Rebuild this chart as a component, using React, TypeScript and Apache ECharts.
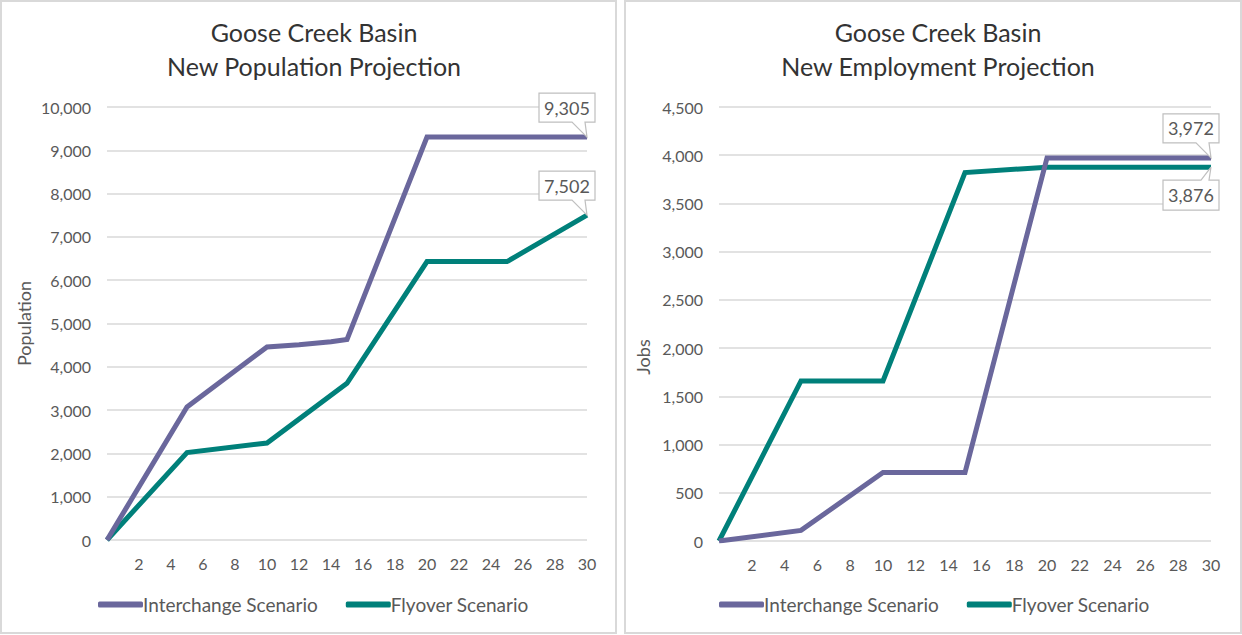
import React, { useEffect, useRef } from "react";
import * as echarts from "echarts";

const popYearsInterchange = [0, 5, 10, 12, 14, 15, 20, 25, 30];
const popInterchange = [0, 3070, 4460, 4510, 4580, 4630, 9305, 9305, 9305];
const popYearsFlyover = [0, 5, 10, 15, 20, 25, 30];
const popFlyover = [0, 2020, 2240, 3620, 6430, 6430, 7502];

const jobYears = [0, 5, 10, 15, 20, 25, 30];
const jobsInterchange = [0, 110, 710, 710, 3972, 3972, 3972];
const jobsFlyover = [0, 1660, 1660, 3820, 3876, 3876, 3876];

const seriesNames = ["Interchange Scenario", "Flyover Scenario"];
const titles = ["Goose Creek Basin\nNew Population Projection", "Goose Creek Basin\nNew Employment Projection"];
const yNames = ["Population", "Jobs"];

const PURPLE = "#6a679c";
const TEAL = "#00807a";
const FONT = "Lato";
const GRAY = "#595959";

const zip = (xs: number[], ys: number[]) => xs.map((x, i) => [x, ys[i]]);
const fmt = (v: number) => v.toLocaleString("en-US");

export default function App() {
  const ref = useRef<HTMLDivElement>(null);
  useEffect(() => {
    document.body.style.margin = "0";
    const chart = echarts.init(ref.current!, undefined, { renderer: "svg" });
    const xAxisBase = (gridIndex: number) => ({
      type: "value" as const,
      gridIndex,
      min: 0,
      max: 30,
      interval: 2,
      axisLine: { show: false },
      axisTick: { show: false },
      splitLine: { show: false },
      axisLabel: {
        margin: 15,
        color: GRAY,
        fontFamily: FONT,
        fontSize: 16,
        formatter: (v: number) => (v === 0 ? "" : String(v)),
      },
    });
    const yAxisBase = (gridIndex: number, max: number, interval: number, name: string, padding: number[]) => ({
      type: "value" as const,
      gridIndex,
      min: 0,
      max,
      interval,
      name,
      nameLocation: "middle" as const,
      nameGap: gridIndex === 0 ? 74 : 67,
      nameTextStyle: { color: GRAY, fontFamily: FONT, fontSize: 18, padding },
      axisLine: { show: false },
      axisTick: { show: false },
      splitLine: { lineStyle: { color: "#d9d9d9", width: 1.5 } },
      axisLabel: {
        margin: 16,
        color: GRAY,
        fontFamily: FONT,
        fontSize: 16,
        formatter: (v: number) => fmt(v),
      },
    });
    const line = (name: string, color: string, data: number[][], idx: number) => ({
      type: "line" as const,
      name,
      xAxisIndex: idx,
      yAxisIndex: idx,
      data,
      showSymbol: false,
      symbol: "none",
      lineStyle: { color, width: 5, join: "miter" },
      itemStyle: { color },
      z: color === PURPLE ? 3 : 2,
    });
    const legendBase = (left: number) => ({
      left,
      top: 590,
      itemWidth: 45,
      itemHeight: 6,
      itemGap: 28,
      icon: "roundRect",
      textStyle: { color: GRAY, fontFamily: FONT, fontSize: 19, padding: [0, 0, 0, -5] },
      data: seriesNames,
    });
    const titleStyle = { color: "#333333", fontFamily: FONT, fontSize: 25, fontWeight: "normal", lineHeight: 34 };
    chart.setOption({
      animation: false,
      backgroundColor: "#ffffff",
      title: [
        { text: titles[0], left: 309, textAlign: "center", top: 10, textStyle: titleStyle },
        { text: titles[1], left: 933, textAlign: "center", top: 10, textStyle: titleStyle },
      ],
      legend: [legendBase(93), legendBase(714)],
      grid: [
        { left: 107, top: 107, width: 480, height: 433 },
        { left: 719, top: 107, width: 492, height: 434 },
      ],
      xAxis: [xAxisBase(0), xAxisBase(1)],
      yAxis: [
        yAxisBase(0, 10000, 1000, yNames[0], [0, 0, 0, 0]),
        yAxisBase(1, 4500, 500, yNames[1], [0, 66, 0, 0]),
      ],
      series: [
        line(seriesNames[0], PURPLE, zip(popYearsInterchange, popInterchange), 0),
        line(seriesNames[1], TEAL, zip(popYearsFlyover, popFlyover), 0),
        line(seriesNames[0], PURPLE, zip(jobYears, jobsInterchange), 1),
        line(seriesNames[1], TEAL, zip(jobYears, jobsFlyover), 1),
      ],
    });

    const callout = (seriesIndex: number, xs: number[], ys: number[], below: boolean) => {
      const i = xs.length - 1;
      const [px, py] = chart.convertToPixel({ seriesIndex }, [xs[i], ys[i]]) as number[];
      const L = px - 48, R = px + 8;
      let pts: number[][];
      let T: number, B: number;
      if (!below) {
        T = py - 44; B = py - 15;
        pts = [[L, T], [R, T], [R, B], [px - 2, B], [px, py], [px - 15, B], [L, B]];
      } else {
        T = py + 13; B = py + 43;
        pts = [[L, T], [px - 10, T], [px, py], [px - 2, T], [R, T], [R, B], [L, B]];
      }
      return [
        {
          type: "polygon",
          shape: { points: pts },
          style: { fill: "#ffffff", stroke: "#bfbfbf", lineWidth: 1.2 },
          z: 50,
        },
        {
          type: "text",
          x: (L + R) / 2,
          y: (T + B) / 2,
          style: {
            text: fmt(ys[i]),
            fill: GRAY,
            font: `18px ${FONT}`,
            align: "center",
            verticalAlign: "middle",
          },
          z: 51,
        },
      ];
    };
    chart.setOption({
      graphic: [
        { type: "rect", shape: { x: 1, y: 1, width: 615, height: 632 }, style: { fill: "none", stroke: "#d9d9d9", lineWidth: 2 }, z: 0, silent: true },
        { type: "rect", shape: { x: 625, y: 1, width: 616, height: 632 }, style: { fill: "none", stroke: "#d9d9d9", lineWidth: 2 }, z: 0, silent: true },
        ...callout(0, popYearsInterchange, popInterchange, false),
        ...callout(1, popYearsFlyover, popFlyover, false),
        ...callout(2, jobYears, jobsInterchange, false),
        ...callout(3, jobYears, jobsFlyover, true),
      ],
    });
    return () => chart.dispose();
  }, []);
  return <div ref={ref} style={{ width: 1242, height: 635 }} />;
}
